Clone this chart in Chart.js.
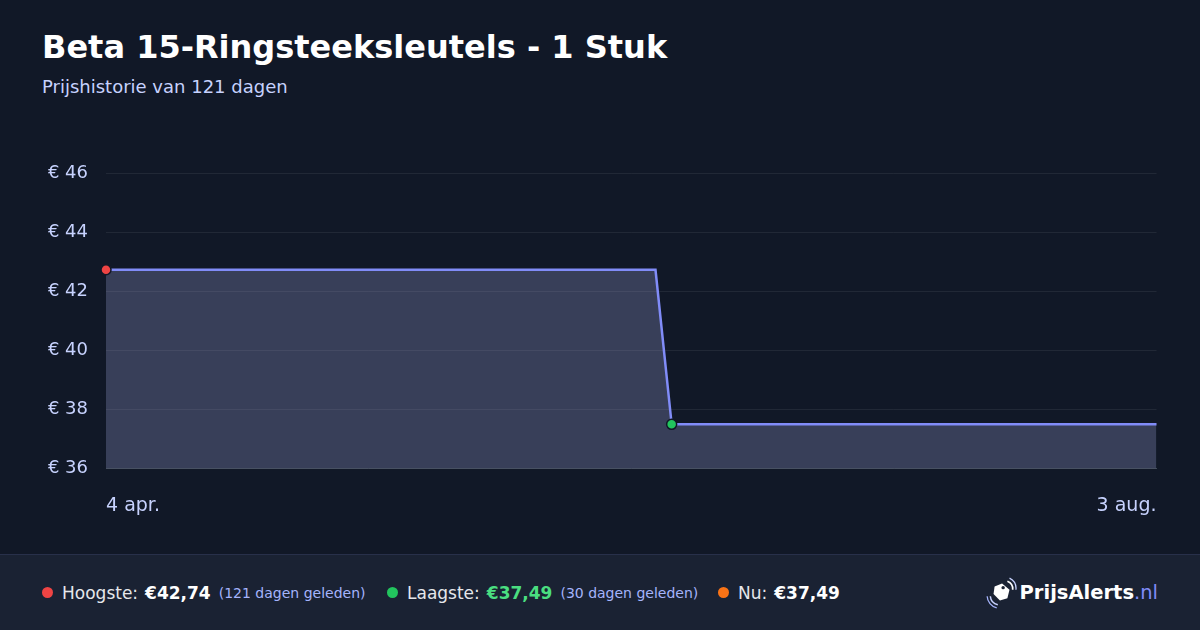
<!DOCTYPE html>
<html>
<head>
<meta charset="utf-8">
<script src="https://cdn.jsdelivr.net/npm/chart.js@4"></script>
<style>
  html, body { margin: 0; padding: 0; }
  body { width: 1200px; height: 630px; background: #111827; position: relative; overflow: hidden; font-family: "DejaVu Sans", sans-serif; }
  h1 { position: absolute; left: 42px; top: 27px; margin: 0; font-size: 32px; font-weight: bold; color: #ffffff; line-height: 40px; }
  .sub { position: absolute; left: 42px; top: 76px; font-size: 18px; color: #c7d2fe; line-height: 22px; }
  #chart { position: absolute; left: 40px; top: 145px; }
  .footer { position: absolute; left: 0; bottom: 0; width: 1200px; height: 75px; background: #1a2233; border-top: 1px solid #28304a; }
  .stat { position: absolute; top: 0; height: 75px; display: flex; align-items: center; font-size: 17px; color: #e5e7eb; white-space: nowrap; }
  .dot { width: 11px; height: 11px; border-radius: 50%; margin-right: 9px; }
  .stat b { color: #ffffff; margin-left: 7px; }
  .stat small { font-size: 14px; color: #a5b4fc; margin-left: 8px; }
  .logo { position: absolute; right: 42px; top: 0; height: 75px; display: flex; align-items: center; font-size: 19.5px; font-weight: bold; color: #ffffff; }
  .logo span { font-weight: normal; color: #818cf8; }
  .logo svg { margin-right: 3px; }
</style>
</head>
<body>
<h1>Beta 15-Ringsteeksleutels - 1 Stuk</h1>
<div class="sub">Prijshistorie van 121 dagen</div>
<canvas id="chart" width="1123" height="390"></canvas>
<div class="footer">
  <div class="stat" style="left:42px"><div class="dot" style="background:#ef4444"></div>Hoogste:<b>€42,74</b><small>(121 dagen geleden)</small></div>
  <div class="stat" style="left:387px"><div class="dot" style="background:#22c55e"></div>Laagste:<b style="color:#4ade80">€37,49</b><small>(30 dagen geleden)</small></div>
  <div class="stat" style="left:718px"><div class="dot" style="background:#f97316"></div>Nu:<b>€37,49</b></div>
  <div class="logo">
    <svg width="32" height="32" viewBox="0 0 30 30">
      <path d="M9 9 L16 6 L23 12 L21 20 L14 22 L8 16 Z" fill="#ffffff"/>
      <circle cx="17" cy="10" r="1.6" fill="#1a2233"/>
      <path d="M21 4 A8 8 0 0 1 26 12" stroke="#ffffff" stroke-width="1.6" fill="none"/>
      <path d="M23 1 A11 11 0 0 1 29 12" stroke="#c7d2fe" stroke-width="1.2" fill="none"/>
      <path d="M5 18 A9 9 0 0 0 12 26" stroke="#c7d2fe" stroke-width="1.4" fill="none"/>
      <path d="M2 18 A12 12 0 0 0 11 29" stroke="#a5b4fc" stroke-width="1.2" fill="none"/>
    </svg>
    PrijsAlerts<span>.nl</span>
  </div>
</div>
<script>
// prijs per meetpunt (euro)
const prices = [
  42.74, 42.74, 42.74, 42.74, 42.74, 42.74, 42.74, 42.74, 42.74, 42.74,
  42.74, 42.74, 42.74, 42.74, 42.74, 42.74, 42.74, 42.74, 42.74, 42.74,
  42.74, 42.74, 42.74, 42.74, 42.74, 42.74, 42.74, 42.74, 42.74, 42.74,
  42.74, 42.74, 42.74, 42.74, 42.74,
  37.49, 37.49, 37.49, 37.49, 37.49, 37.49, 37.49, 37.49, 37.49, 37.49,
  37.49, 37.49, 37.49, 37.49, 37.49, 37.49, 37.49, 37.49, 37.49, 37.49,
  37.49, 37.49, 37.49, 37.49, 37.49, 37.49, 37.49, 37.49, 37.49, 37.49,
  37.49
];
const tickLabels = ['4 apr.', '3 aug.'];
const yTicks = [36, 38, 40, 42, 44, 46];
const highIndex = 0;
const lowIndex = 35;

var labels = prices.map(function(p, i) {
    if (i === 0) return tickLabels[0];
    if (i === prices.length - 1) return tickLabels[1];
    return '';
});

var pointRadius = prices.map(function(p, i) { return (i === highIndex || i === lowIndex) ? 5 : 0; });
var pointColors = prices.map(function(p, i) { return i === highIndex ? '#ef4444' : '#22c55e'; });

var ctx = document.getElementById('chart').getContext('2d');
var chart = new Chart(ctx, {
    type: 'line',
    data: {
        labels: labels,
        datasets: [{
            data: prices,
            borderColor: '#818cf8',
            borderWidth: 2.5,
            backgroundColor: 'rgba(150,155,205,0.3)',
            fill: 'start',
            tension: 0,
            pointRadius: pointRadius,
            pointBackgroundColor: pointColors,
            pointBorderColor: '#111827',
            pointBorderWidth: 1.5,
            clip: false
        }]
    },
    options: {
        responsive: false,
        animation: false,
        layout: { padding: 0 },
        plugins: { legend: { display: false }, tooltip: { enabled: false } },
        scales: {
            x: {
                grid: { display: false },
                border: { display: true, color: 'rgba(148,163,184,0.35)', width: 1 },
                afterFit: function(scale) { scale.paddingLeft = 0; scale.paddingRight = 0; },
                ticks: {
                    autoSkip: false,
                    maxRotation: 0,
                    align: 'inner',
                    padding: 18,
                    color: '#c7d2fe',
                    font: { family: 'DejaVu Sans', size: 19 }
                }
            },
            y: {
                min: 36,
                max: 46,
                afterBuildTicks: function(scale) {
                    scale.ticks = yTicks.map(function(v) { return { value: v }; });
                },
                afterFit: function(scale) { scale.width = 66; },
                grid: { color: 'rgba(255,255,255,0.07)', drawTicks: false },
                border: { display: false },
                ticks: {
                    padding: 18,
                    color: '#c7d2fe',
                    font: { family: 'DejaVu Sans', size: 18 },
                    callback: function(v) { return '€ ' + v; }
                }
            }
        }
    }
});
</script>
</body>
</html>
